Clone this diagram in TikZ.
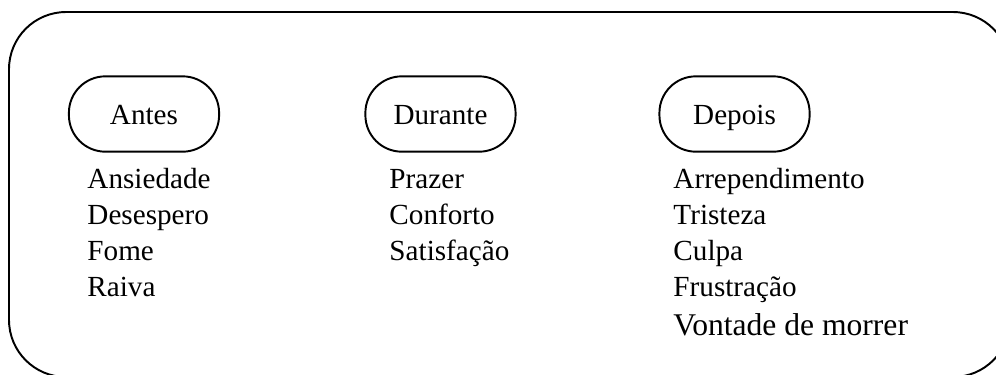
\documentclass[tikz,border=0pt]{standalone}
\usepackage{fontspec}
\setmainfont{Liberation Serif}
\usetikzlibrary{positioning}

\begin{document}
\begin{tikzpicture}[x=0.4115pt, y=-0.4115pt, node distance=122pt, auto] % 1 unit = 1 px of the reference

    \tikzset{
        phase/.style={draw, rectangle, rounded corners=15pt, line width=0.8pt, minimum width=61.8pt, minimum height=31pt, text height=10pt, text depth=1pt, font=\fontsize{12}{14.8}\selectfont},
        feelings/.style={anchor=north west, align=left, inner sep=0pt, font=\fontsize{12}{14.8}\selectfont}
    }

    % Frame (runs past the right and bottom edges)
    \useasboundingbox (0,0) rectangle (996,374);
    \clip (0,0) rectangle (996,374);
    \draw [line width=0.8pt, rounded corners=23.5pt] (9,12) rectangle (1010,377);

    % Phases
    \node [phase] (Antes) at (144,114) {Antes};
    \node [phase, right of=Antes] (Durante) {Durante};
    \node [phase, right of=Durante, node distance=121pt] (Depois) {Depois};

    % Feelings under each phase
    \node [feelings] (AntesList) at (87,163) {\strut Ansiedade\\Desespero\\Fome\\Raiva};
    \node [feelings] (DuranteList) at (389,163) {\strut Prazer\\Conforto\\Satisfação};
    \node [feelings] (DepoisList) at (673,163) {\strut Arrependimento\\Tristeza\\Culpa\\Frustração};
    \node [anchor=base west, inner sep=0pt, font=\fontsize{13}{15.2}\selectfont] (Vontade) at (673,335) {Vontade de morrer}; % slightly larger in the source

\end{tikzpicture}
\end{document}
